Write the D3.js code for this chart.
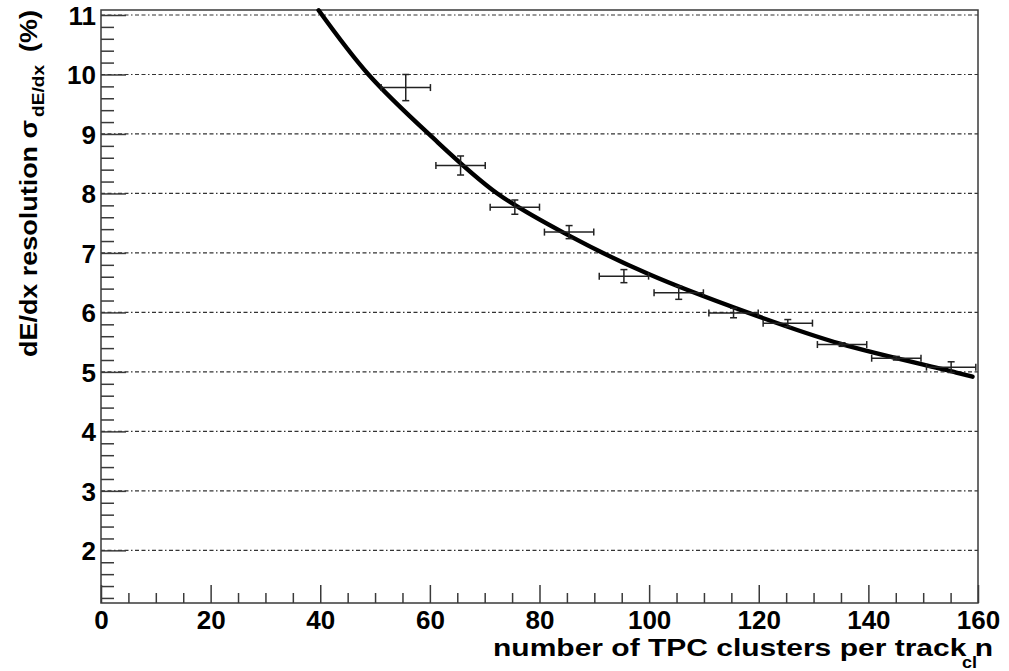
<!DOCTYPE html>
<html>
<head>
<meta charset="utf-8">
<script src="https://cdn.jsdelivr.net/npm/d3@7"></script>
<style>
  body { margin: 0; background: #fff; }
  text { font-family: "Liberation Sans", Arial, sans-serif; font-weight: bold; fill: #000; }
</style>
</head>
<body>
<div class="chart"></div>
<script>
// measured points: TPC clusters per track vs dE/dx resolution (%)
var nclCenters = [55.6, 65.6, 75.5, 85.4, 95.4, 105.4, 115.4, 125.3, 135.2, 145.1, 155.1];
var nclHalfWidth = [4.5, 4.5, 4.5, 4.5, 4.5, 4.5, 4.5, 4.5, 4.5, 4.5, 4.5];
var resValues = [9.78, 8.47, 7.77, 7.35, 6.61, 6.33, 5.99, 5.82, 5.46, 5.23, 5.08];
var resErrors = [0.22, 0.16, 0.12, 0.11, 0.11, 0.11, 0.08, 0.06, 0.03, 0.03, 0.09];

// fit curve
var fitN = [39.7, 48.8, 59.8, 72.3, 85.4, 100, 117.9, 135, 155.6, 159];
var fitSigma = [11.08, 10.0, 9.0, 8.0, 7.29, 6.64, 6.0, 5.47, 5.0, 4.92];

var xTicks = [0, 20, 40, 60, 80, 100, 120, 140, 160];
var yTicks = [2, 3, 4, 5, 6, 7, 8, 9, 10, 11];

var svgWidth = 1009;
var svgHeight = 671;

var margin = { top: 10, right: 31, bottom: 68, left: 101 };
var width = svgWidth - margin.left - margin.right;
var height = svgHeight - margin.top - margin.bottom;

var svg = d3.select(".chart")
  .append("svg")
  .attr("width", svgWidth)
  .attr("height", svgHeight);

var chartGroup = svg.append("g")
  .attr("transform", `translate(${margin.left}, ${margin.top})`);

var xScale = d3.scaleLinear()
  .domain([0, 160])
  .range([0, width]);

var yScale = d3.scaleLinear()
  .domain([1.115, 11.084])
  .range([height, 0]);

var axisColor = "#3a3a3a";

// grid lines at the major y ticks
chartGroup.selectAll(".grid")
  .data(yTicks)
  .enter()
  .append("line")
  .attr("x1", 0)
  .attr("x2", width)
  .attr("y1", d => yScale(d))
  .attr("y2", d => yScale(d))
  .attr("stroke", "#333")
  .attr("stroke-width", 1.2)
  .attr("stroke-dasharray", "4,2.5,4,2.5,1.5,2.5");

// frame
chartGroup.append("rect")
  .attr("width", width)
  .attr("height", height)
  .attr("fill", "none")
  .attr("stroke", axisColor)
  .attr("stroke-width", 1.5);

// x axis: minor + major ticks pointing up
var minorX = d3.range(0, 161, 5).filter(d => d % 20 != 0);
chartGroup.append("g")
  .attr("transform", `translate(0, ${height})`)
  .call(d3.axisBottom(xScale).tickValues(minorX).tickSize(-10).tickFormat(""))
  .call(g => g.select(".domain").remove());

chartGroup.append("g")
  .attr("class", "xaxis")
  .attr("transform", `translate(0, ${height})`)
  .call(d3.axisBottom(xScale).tickValues(xTicks).tickSize(-18).tickPadding(8).tickFormat(d3.format("d")))
  .call(g => g.select(".domain").remove());

// y axis: minor + major ticks pointing right
var minorY = d3.range(12, 111, 2).map(d => d / 10).filter(d => Math.abs(d - Math.round(d)) > 0.01);
chartGroup.append("g")
  .call(d3.axisLeft(yScale).tickValues(minorY).tickSize(-13).tickFormat(""))
  .call(g => g.select(".domain").remove());

chartGroup.append("g")
  .attr("class", "yaxis")
  .call(d3.axisLeft(yScale).tickValues(yTicks).tickSize(-25).tickPadding(5).tickFormat(d3.format("d")))
  .call(g => g.select(".domain").remove());

chartGroup.selectAll(".tick line")
  .attr("stroke", axisColor)
  .attr("stroke-width", 1.5);

chartGroup.selectAll(".xaxis text, .yaxis text")
  .attr("font-family", "Liberation Sans, Arial, sans-serif")
  .attr("font-weight", "bold")
  .attr("font-size", 26)
  .attr("fill", "#000");

chartGroup.selectAll(".yaxis text").attr("dy", "0.36em");

// fit curve
var fitData = fitN.map((n, i) => ({ n: n, s: fitSigma[i] }));
var line = d3.line()
  .x(d => xScale(d.n))
  .y(d => yScale(d.s))
  .curve(d3.curveCatmullRom.alpha(0.5));

chartGroup.append("path")
  .datum(fitData)
  .attr("d", line)
  .attr("fill", "none")
  .attr("stroke", "#000")
  .attr("stroke-width", 4.4)
  .attr("stroke-linecap", "round");

// error bars
var points = nclCenters.map((n, i) => ({ n: n, dn: nclHalfWidth[i], s: resValues[i], ds: resErrors[i] }));
var bars = chartGroup.selectAll(".pt")
  .data(points)
  .enter()
  .append("g")
  .attr("stroke", "#222")
  .attr("stroke-width", 1.5);

bars.append("line")
  .attr("x1", d => xScale(d.n - d.dn))
  .attr("x2", d => xScale(d.n + d.dn))
  .attr("y1", d => yScale(d.s))
  .attr("y2", d => yScale(d.s));
bars.append("line")
  .attr("x1", d => xScale(d.n))
  .attr("x2", d => xScale(d.n))
  .attr("y1", d => yScale(d.s - d.ds))
  .attr("y2", d => yScale(d.s + d.ds));
// caps
bars.append("line")
  .attr("x1", d => xScale(d.n - d.dn))
  .attr("x2", d => xScale(d.n - d.dn))
  .attr("y1", d => yScale(d.s) - 3.5)
  .attr("y2", d => yScale(d.s) + 3.5);
bars.append("line")
  .attr("x1", d => xScale(d.n + d.dn))
  .attr("x2", d => xScale(d.n + d.dn))
  .attr("y1", d => yScale(d.s) - 3.5)
  .attr("y2", d => yScale(d.s) + 3.5);
bars.append("line")
  .attr("x1", d => xScale(d.n) - 3.5)
  .attr("x2", d => xScale(d.n) + 3.5)
  .attr("y1", d => yScale(d.s + d.ds))
  .attr("y2", d => yScale(d.s + d.ds));
bars.append("line")
  .attr("x1", d => xScale(d.n) - 3.5)
  .attr("x2", d => xScale(d.n) + 3.5)
  .attr("y1", d => yScale(d.s - d.ds))
  .attr("y2", d => yScale(d.s - d.ds));

// axis titles
svg.append("text")
  .attr("x", 493)
  .attr("y", 656)
  .attr("font-size", 23)
  .attr("textLength", 500)
  .attr("lengthAdjust", "spacingAndGlyphs")
  .text("number of TPC clusters per track n");

svg.append("text")
  .attr("x", 962)
  .attr("y", 668)
  .attr("font-size", 16)
  .attr("textLength", 15)
  .attr("lengthAdjust", "spacingAndGlyphs")
  .text("cl");

svg.append("text")
  .attr("transform", "translate(37, 357) rotate(-90)")
  .attr("font-size", 24)
  .attr("textLength", 237)
  .attr("lengthAdjust", "spacingAndGlyphs")
  .text("dE/dx resolution σ");

svg.append("text")
  .attr("transform", "translate(44, 117) rotate(-90)")
  .attr("font-size", 16)
  .attr("textLength", 52)
  .attr("lengthAdjust", "spacingAndGlyphs")
  .text("dE/dx");

svg.append("text")
  .attr("transform", "translate(37, 52) rotate(-90)")
  .attr("font-size", 24)
  .attr("textLength", 42)
  .attr("lengthAdjust", "spacingAndGlyphs")
  .text("(%)");
</script>
</body>
</html>
